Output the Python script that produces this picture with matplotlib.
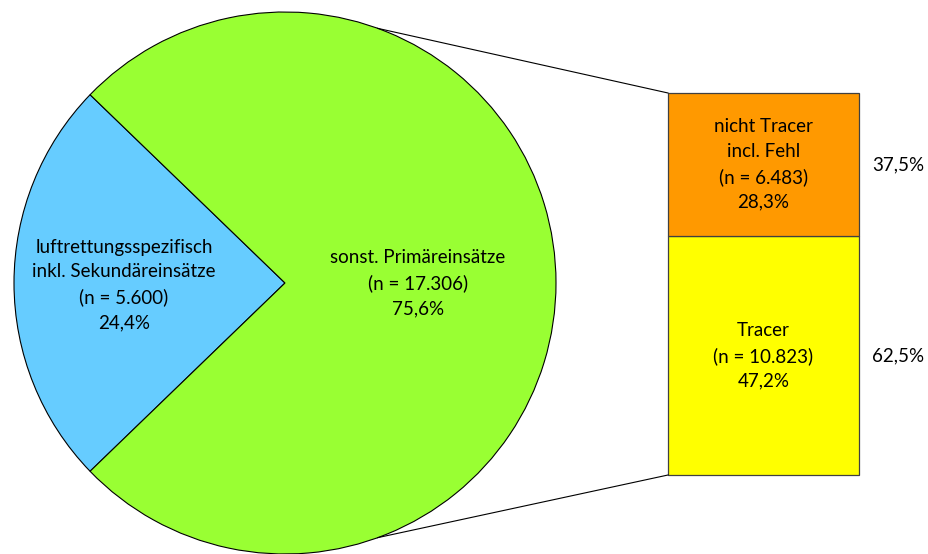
import matplotlib.pyplot as plt
import numpy as np

# Data
pie_labels = ["luftrettungsspezifisch\ninkl. Sekundäreinsätze\n(n = 5.600)\n24,4%",
              "sonst. Primäreinsätze\n(n = 17.306)\n75,6%"]
pie_values = [5600, 17306]
pie_colors = ["#66CCFF", "#99FF33"]

bar_labels = ["Tracer\n(n = 10.823)\n47,2%",
              "nicht Tracer\nincl. Fehl\n(n = 6.483)\n28,3%"]
bar_values = [10823, 6483]
bar_share_labels = ["62,5%", "37,5%"]
bar_colors = ["#FFFF00", "#FF9900"]

plt.rcParams['font.family'] = ['Lato', 'DejaVu Sans']
fs = 13.5

W, H = 929, 554
fig = plt.figure(figsize=(W / 100, H / 100), dpi=100)
ax = fig.add_axes([0, 0, 1, 1])

# pie, blue slice centred on the left
cx, cy, r = 285, H - 283, 271
blue_frac = pie_values[0] / sum(pie_values)
start = 180 - blue_frac * 360 / 2
ax.pie(pie_values, colors=pie_colors, startangle=start, center=(cx, cy), radius=r,
       wedgeprops=dict(edgecolor="black", linewidth=0.8))

ax.text(124, H - 285, pie_labels[0], ha="center", va="center", fontsize=fs, linespacing=1.55)
ax.text(418, H - 283, pie_labels[1], ha="center", va="center", fontsize=fs, linespacing=1.55)

# stacked bar
bx0, bx1 = 668, 859
btop, bbot = H - 93, H - 475
total = sum(bar_values)
bottom = bbot
mids = []
for v, c in zip(bar_values, bar_colors):
    h = v / total * (btop - bbot)
    ax.bar((bx0 + bx1) / 2, h, width=bx1 - bx0, bottom=bottom, color=c,
           edgecolor="#404040", linewidth=0.9)
    mids.append(bottom + h / 2)
    bottom += h

for lab, share, m in zip(bar_labels, bar_share_labels, mids):
    ax.text((bx0 + bx1) / 2, m, lab, ha="center", va="center", fontsize=fs, linespacing=1.55)
    ax.text(898, m, share, ha="center", va="center", fontsize=fs)

# connector lines
a = np.radians(70)
ax.plot([cx + r * np.cos(a), bx0], [cy + r * np.sin(a), btop], color="black", lw=0.8)
ax.plot([cx + r * np.cos(a), bx0], [cy - r * np.sin(a), bbot], color="black", lw=0.8)

ax.set_xlim(0, W)
ax.set_ylim(0, H)
ax.set_aspect("equal")
ax.axis("off")

fig.savefig("out.png", dpi=100)
